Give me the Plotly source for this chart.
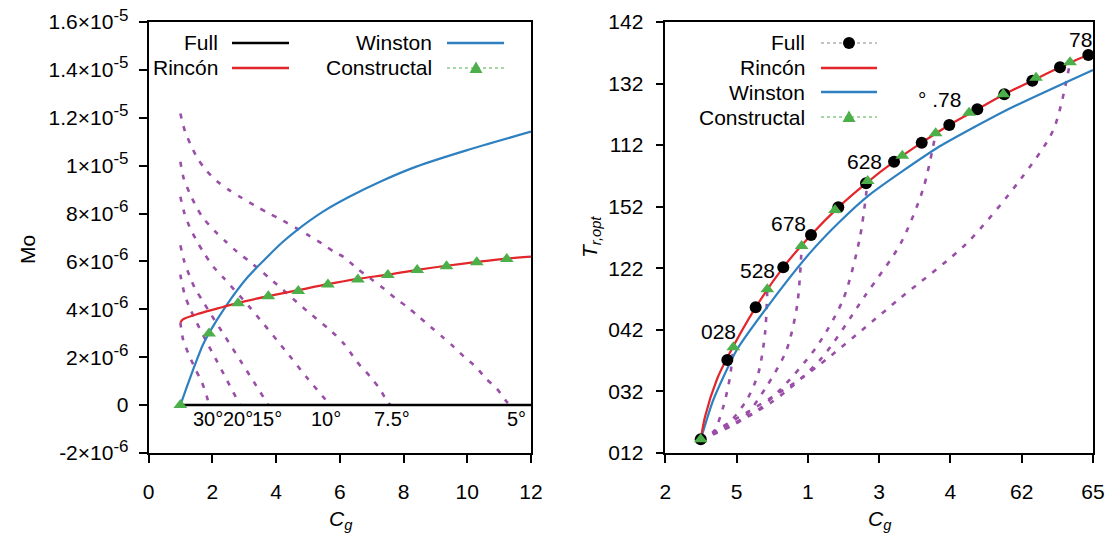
import plotly.graph_objects as go

# ================= LEFT PANEL: Mo (units of 1e-6) vs Cg =================
cg_full_l = [1, 12]
mo_full_l = [0, 0]

cg_rincon_l = [1.0, 1.08, 1.61, 2.34, 2.81, 3.76, 4.7, 5.63, 6.57, 7.51, 8.43, 9.35, 10.3, 11.24, 12.0]
mo_rincon_l = [3.45, 3.58, 3.83, 4.1, 4.27, 4.55, 4.8, 5.05, 5.27, 5.45, 5.65, 5.82, 5.98, 6.12, 6.2]

cg_winston_l = [1.0, 1.2, 1.4, 1.7, 1.92, 2.45, 3.08, 3.6, 4.2, 4.65, 5.5, 6.3, 7.3, 8.4, 10.0, 12.0]
mo_winston_l = [0.0, 0.75, 1.48, 2.5, 3.06, 4.18, 5.3, 6.02, 6.8, 7.3, 8.1, 8.7, 9.35, 9.96, 10.65, 11.42]

cg_constr_l = [1.0, 1.9, 2.81, 3.76, 4.7, 5.63, 6.57, 7.51, 8.43, 9.35, 10.3, 11.24]
mo_constr_l = [0.0, 2.99, 4.25, 4.55, 4.77, 5.04, 5.25, 5.43, 5.64, 5.8, 5.97, 6.1]

cg_t5 = [1.0, 1.15, 1.33, 1.54, 1.82, 2.15, 2.53, 2.92, 3.37, 3.79, 4.2, 4.62, 5.01, 5.44, 5.83,
         6.12, 6.54, 6.96, 7.38, 7.75, 8.12, 8.48, 8.85, 9.22, 9.58, 9.9, 10.27, 10.58, 10.92, 11.24, 11.35]
mo_t5 = [12.18, 11.41, 10.86, 10.3, 9.79, 9.35, 8.98, 8.66, 8.31, 8.0, 7.72, 7.4, 7.1, 6.75, 6.39,
         6.19, 5.71, 5.29, 4.87, 4.46, 4.1, 3.69, 3.27, 2.85, 2.43, 2.02, 1.6, 1.11, 0.7, 0.14, 0.0]
cg_t75 = [1.0, 1.11, 1.29, 1.5, 1.74, 2.08, 2.43, 2.78, 3.16, 3.8, 4.4, 5.0, 5.7, 6.12, 6.54, 6.96, 7.28, 7.49, 7.6]
mo_t75 = [10.16, 9.44, 8.86, 8.28, 7.77, 7.27, 6.82, 6.4, 6.01, 5.3, 4.6, 3.9, 3.13, 2.58, 1.81, 1.18, 0.63, 0.14, 0.0]
cg_t10 = [1.0, 1.13, 1.29, 1.5, 1.75, 2.04, 2.35, 3.2, 4.4, 5.0, 5.7]
mo_t10 = [8.7, 8.0, 7.44, 6.89, 6.33, 5.77, 5.32, 4.05, 2.1, 1.1, 0.0]
cg_t15 = [1.0, 1.12, 1.3, 1.46, 1.72, 1.96, 2.4, 2.9, 3.3, 3.76]
mo_t15 = [6.68, 6.01, 5.36, 4.87, 4.31, 3.79, 2.87, 1.82, 0.98, 0.0]
cg_t20 = [1.0, 1.02, 1.14, 1.3, 1.51, 1.8, 2.1, 2.45, 2.87]
mo_t20 = [5.45, 5.29, 4.59, 4.04, 3.45, 2.7, 1.95, 1.07, 0.0]
cg_t30 = [1.0, 1.09, 1.25, 1.46, 1.67, 1.83, 1.9]
mo_t30 = [3.45, 2.71, 2.16, 1.53, 0.97, 0.35, 0.0]

angle_labels_l = ["30°", "20°", "15°", "10°", "7.5°", "5°"]
angle_label_cg_l = [1.87, 2.81, 3.71, 5.57, 7.64, 11.53]
angle_label_mo_l = [-0.58, -0.58, -0.58, -0.58, -0.58, -0.58]

SUP = "<sup><span style='font-size:17px'>{}</span></sup>"
ytick_vals_l = [-2, 0, 2, 4, 6, 8, 10, 12, 14, 16]
ytick_base_l = ["-2×10", "0", "2×10", "4×10", "6×10", "8×10", "1×10", "1.2×10", "1.4×10", "1.6×10"]
ytick_exp_l = ["-6", "", "-6", "-6", "-6", "-6", "-5", "-5", "-5", "-5"]
ytick_text_l = [b + (SUP.format(e) if e else "") for b, e in zip(ytick_base_l, ytick_exp_l)]
xtick_vals_l = [0, 2, 4, 6, 8, 10, 12]

# ================= RIGHT PANEL: T_r,opt vs Cg (tick-index units) =================
xtick_vals_r = [0, 1, 2, 3, 4, 5, 6]
xtick_text_r = ["2", "5", "1", "3", "4", "62", "65"]
ytick_vals_r = [0, 1, 2, 3, 4, 5, 6, 7]
ytick_text_r = ["012", "032", "042", "122", "152", "112", "132", "142"]

x_full_r = [0.497, 0.870, 1.268, 1.655, 2.044, 2.427, 2.816, 3.209, 3.597, 3.984, 4.377, 4.756, 5.149, 5.537, 5.934]
y_full_r = [0.222, 1.51, 2.366, 3.016, 3.541, 3.99, 4.38, 4.731, 5.04, 5.327, 5.582, 5.826, 6.047, 6.264, 6.464]

x_constr_r = [0.497, 0.954, 1.431, 1.913, 2.381, 2.839, 3.325, 3.793, 4.261, 4.742, 5.201, 5.678]
y_constr_r = [0.222, 1.717, 2.659, 3.362, 3.947, 4.418, 4.829, 5.192, 5.527, 5.826, 6.096, 6.345]

x_rincon_r = [0.497, 0.557, 0.721, 0.87, 1.268, 1.655, 2.044, 2.427, 2.816, 3.209, 3.597, 3.984,
              4.377, 4.756, 5.149, 5.537, 5.934, 6.0]
y_rincon_r = [0.222, 0.59, 1.186, 1.55, 2.366, 3.016, 3.541, 3.99, 4.38, 4.731, 5.04, 5.327,
              5.582, 5.826, 6.047, 6.264, 6.464, 6.48]

x_winston_r = [0.497, 0.673, 1.002, 1.469, 2.03, 2.45, 2.872, 3.807, 4.79, 6.0]
y_winston_r = [0.222, 0.861, 1.673, 2.431, 3.25, 3.76, 4.2, 4.95, 5.57, 6.22]

x_ca = [0.497, 0.678, 0.814, 0.908, 0.954]
y_ca = [0.222, 0.346, 0.752, 1.239, 1.717]
x_cb = [0.497, 0.884, 1.142, 1.305, 1.399, 1.431]
y_cb = [0.222, 0.482, 0.861, 1.294, 1.944, 2.659]
x_cc = [0.497, 1.07, 1.42, 1.70, 1.85, 1.913]
y_cc = [0.222, 0.54, 1.08, 1.67, 2.4, 3.362]
x_cd = [0.497, 1.235, 1.609, 2.124, 2.497, 2.73, 2.839]
y_cd = [0.222, 0.645, 1.023, 1.727, 2.5, 3.5, 4.418]
x_ce = [0.497, 1.469, 2.17, 2.80, 3.3, 3.62, 3.793]
y_ce = [0.222, 0.807, 1.51, 2.55, 3.4, 4.3, 5.192]
x_cf = [0.497, 1.94, 3.293, 4.228, 4.976, 5.443, 5.678]
y_cf = [0.222, 1.24, 2.513, 3.406, 4.434, 5.246, 6.345]

labels_r = ["028", "528", "678", "628", "° .78", "78"]
label_x_r = [0.744, 1.29, 1.735, 2.79, 3.84, 5.82]
label_y_r = [1.97, 2.97, 3.72, 4.73, 5.74, 6.72]

# ================= styling =================
FONT = "Liberation Sans, Arial, sans-serif"
RED = "#e3262b"
BLUE = "#2f80c0"
GREEN = "#4caf4a"
PURPLE = "#9a4ea8"
W, H = 1112, 537

def px_x(p):
    return p / W

def px_y(p):
    return (H - p) / H

fig = go.Figure()

dash_style = dict(color=PURPLE, width=2.6, dash="5px,8px", shape="spline", smoothing=0.8)

for cx, cy in [(cg_t30, mo_t30), (cg_t20, mo_t20), (cg_t15, mo_t15), (cg_t10, mo_t10), (cg_t75, mo_t75), (cg_t5, mo_t5)]:
    fig.add_trace(go.Scatter(x=cx, y=cy, mode="lines", line=dash_style, xaxis="x", yaxis="y", showlegend=False))

fig.add_trace(go.Scatter(x=cg_full_l, y=mo_full_l, mode="lines", line=dict(color="black", width=2.5),
                         xaxis="x", yaxis="y", showlegend=False))
fig.add_trace(go.Scatter(x=cg_winston_l, y=mo_winston_l, mode="lines",
                         line=dict(color=BLUE, width=2.2, shape="spline", smoothing=0.6),
                         xaxis="x", yaxis="y", showlegend=False))
fig.add_trace(go.Scatter(x=cg_rincon_l, y=mo_rincon_l, mode="lines",
                         line=dict(color=RED, width=2.2, shape="spline", smoothing=0.8),
                         xaxis="x", yaxis="y", showlegend=False))
fig.add_trace(go.Scatter(x=cg_constr_l, y=mo_constr_l, mode="markers",
                         marker=dict(symbol="triangle-up", size=12, color=GREEN),
                         xaxis="x", yaxis="y", showlegend=False))

for cx, cy in [(x_ca, y_ca), (x_cb, y_cb), (x_cc, y_cc), (x_cd, y_cd), (x_ce, y_ce), (x_cf, y_cf)]:
    fig.add_trace(go.Scatter(x=cx, y=cy, mode="lines", line=dash_style, xaxis="x2", yaxis="y2", showlegend=False))

fig.add_trace(go.Scatter(x=x_winston_r, y=y_winston_r, mode="lines",
                         line=dict(color=BLUE, width=2.2, shape="spline", smoothing=0.6),
                         xaxis="x2", yaxis="y2", showlegend=False))
fig.add_trace(go.Scatter(x=x_rincon_r, y=y_rincon_r, mode="lines",
                         line=dict(color=RED, width=2.2, shape="spline", smoothing=0.8),
                         xaxis="x2", yaxis="y2", showlegend=False))
fig.add_trace(go.Scatter(x=x_full_r, y=y_full_r, mode="markers",
                         marker=dict(symbol="circle", size=12, color="black"),
                         xaxis="x2", yaxis="y2", showlegend=False))
fig.add_trace(go.Scatter(x=x_constr_r, y=y_constr_r, mode="markers",
                         marker=dict(symbol="triangle-up", size=12, color=GREEN),
                         xaxis="x2", yaxis="y2", showlegend=False))

axis_common = dict(showline=True, linecolor="black", linewidth=1.5, mirror=True, ticks="outside",
                   ticklen=8, tickwidth=1.5, tickcolor="black", showgrid=False, zeroline=False,
                   automargin=False, tickfont=dict(family=FONT, size=21, color="black"))

ydom = [px_y(453), px_y(22)]
fig.update_layout(
    width=W, height=H, margin=dict(l=0, r=0, t=0, b=0, autoexpand=False),
    paper_bgcolor="white", plot_bgcolor="white", showlegend=False,
    xaxis=dict(domain=[px_x(148.5), px_x(531)], range=[0, 12], tickvals=xtick_vals_l,
               anchor="y", ticklabelstandoff=11, **axis_common),
    yaxis=dict(domain=ydom, range=[-2, 16], tickvals=ytick_vals_l, ticktext=ytick_text_l,
               anchor="x", ticklabelstandoff=6, **axis_common),
    xaxis2=dict(domain=[px_x(665.3), px_x(1093)], range=[0, 6], tickvals=xtick_vals_r,
                ticktext=xtick_text_r, anchor="y2", ticklabelstandoff=11, **axis_common),
    yaxis2=dict(domain=ydom, range=[0, 7], tickvals=ytick_vals_r, ticktext=ytick_text_r,
                anchor="x2", ticklabelstandoff=8, **axis_common),
)

ann = []
tf = dict(family=FONT, size=21, color="black")
for t, x, y in zip(angle_labels_l, angle_label_cg_l, angle_label_mo_l):
    ann.append(dict(x=x, y=y, xref="x", yref="y", text=t, showarrow=False,
                    font=dict(family=FONT, size=20, color="black")))
for t, x, y in zip(labels_r, label_x_r, label_y_r):
    ann.append(dict(x=x, y=y, xref="x2", yref="y2", text=t, showarrow=False, font=tf))

# axis titles
def title(txt, xc, yc, angle=0):
    ann.append(dict(x=px_x(xc), y=px_y(yc), xref="paper", yref="paper", text=txt, textangle=angle,
                    xanchor="center", yanchor="middle", showarrow=False, font=tf))

title("Mo", 28, 250, -90)
title("<i>C<sub>g</sub></i>", 341, 520)
title("<i>C<sub>g</sub></i>", 880, 520)
title("<i>T<sub>r,opt</sub></i>", 591, 237, -90)

# custom legends
shapes = []
def leg_text(txt, xr, yc):
    ann.append(dict(x=px_x(xr), y=px_y(yc), xref="paper", yref="paper", text=txt, showarrow=False,
                    xanchor="right", yanchor="middle", font=tf))

def leg_line(x0, x1, yc, color, width=2.5, dash="solid"):
    shapes.append(dict(type="line", xref="paper", yref="paper", x0=px_x(x0), x1=px_x(x1),
                       y0=px_y(yc), y1=px_y(yc), line=dict(color=color, width=width, dash=dash)))

def leg_tri(xc, yc):
    shapes.append(dict(type="path", xref="paper", yref="paper", xsizemode="pixel", ysizemode="pixel",
                       xanchor=px_x(xc), yanchor=px_y(yc), path="M -6.5 -5 L 6.5 -5 L 0 6.5 Z",
                       fillcolor=GREEN, line=dict(width=0)))

def leg_dot(xc, yc):
    shapes.append(dict(type="circle", xref="paper", yref="paper", xsizemode="pixel", ysizemode="pixel",
                       xanchor=px_x(xc), yanchor=px_y(yc), x0=-6, x1=6, y0=-6, y1=6,
                       fillcolor="black", line=dict(width=0)))

# left legend
leg_text("Full", 219.5, 43); leg_line(232, 289, 43, "black")
leg_text("Rincón", 219.5, 68); leg_line(232, 289, 68, RED)
leg_text("Winston", 434, 43); leg_line(447, 504, 43, BLUE)
leg_text("Constructal", 434, 68); leg_line(447, 504, 68, GREEN, width=1, dash="dot"); leg_tri(476, 68)

# right legend
leg_text("Full", 807, 43); leg_line(821, 877, 43, "#888888", width=1, dash="dot"); leg_dot(849, 43)
leg_text("Rincón", 807, 68); leg_line(821, 877, 68, RED)
leg_text("Winston", 807, 92); leg_line(821, 877, 92, BLUE)
leg_text("Constructal", 807, 117); leg_line(821, 877, 117, GREEN, width=1, dash="dot"); leg_tri(849, 117)

fig.update_layout(annotations=ann, shapes=shapes)

fig.write_html("out.html", config={"displayModeBar": False},
               post_script="document.body.style.margin='0';")
